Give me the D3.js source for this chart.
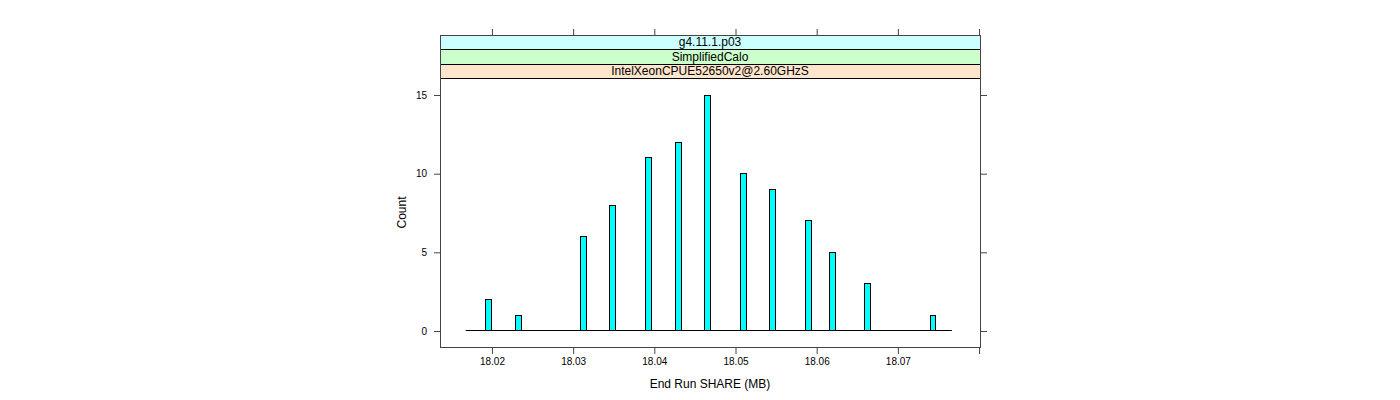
<!DOCTYPE html>
<html>
<head>
<meta charset="utf-8">
<script src="https://cdn.jsdelivr.net/npm/d3@7"></script>
<style>
  html, body { margin: 0; padding: 0; background: #fff; }
  svg { display: block; font-family: "Liberation Sans", Arial, Helvetica, sans-serif; }
</style>
</head>
<body>
<svg id="chart" width="1400" height="400"></svg>
<script>
// ---- data ----
const binCenters = [18.01958, 18.02328, 18.03132, 18.03490, 18.03933, 18.04295, 18.04657,
                    18.05096, 18.05460, 18.05903, 18.06190, 18.06631, 18.07433];
const counts     = [2, 1, 6, 8, 11, 12, 15, 10, 9, 7, 5, 3, 1];
const binWidth   = 0.00073;
const histRange  = [18.01683, 18.07671];
const xDomain    = [18.01366, 18.08018];
const yDomain    = [-1.05, 16.05];
const xTickValues = [18.02, 18.03, 18.04, 18.05, 18.06, 18.07, 18.08];
const xTickLabels = ["18.02", "18.03", "18.04", "18.05", "18.06", "18.07", ""];
const yTickValues = [0, 5, 10, 15];
const yTickLabels = ["0", "5", "10", "15"];
const stripLabels = ["g4.11.1.p03", "SimplifiedCalo", "IntelXeonCPUE52650v2@2.60GHzS"];
const stripColors = ["#ccffff", "#ccffcc", "#ffe5cc"];
const xTitle = "End Run SHARE (MB)";
const yTitle = "Count";

// ---- layout ----
const left = 440, right = 980, stripTop = 35, plotTop = 78, bottom = 347;
const stripH = (plotTop - stripTop) / stripLabels.length;
const frameCol = "#444";

const svg = d3.select("#chart");
const x = d3.scaleLinear().domain(xDomain).range([left, right]);
const y = d3.scaleLinear().domain(yDomain).range([bottom, plotTop]);
const px = v => Math.round(v) + 0.5;

// strips
const strips = svg.append("g");
stripLabels.forEach((lab, i) => {
  const y0 = stripTop + i * stripH;
  strips.append("rect")
    .attr("x", left + 0.5).attr("y", px(y0))
    .attr("width", right - left).attr("height", Math.round(y0 + stripH) - Math.round(y0))
    .attr("fill", stripColors[i]).attr("stroke", "#000").attr("stroke-width", 1);
  strips.append("text")
    .attr("x", (left + right) / 2).attr("y", y0 + stripH / 2)
    .attr("dy", "0.36em").attr("text-anchor", "middle")
    .attr("font-size", 12).attr("fill", "#000").text(lab);
});

// histogram baseline (empty bins)
svg.append("line")
  .attr("x1", x(histRange[0])).attr("x2", x(histRange[1]))
  .attr("y1", px(y(0))).attr("y2", px(y(0)))
  .attr("stroke", "#000").attr("stroke-width", 1);

// bars
svg.append("g").selectAll("rect")
  .data(binCenters.map((c, i) => ({ c, n: counts[i] })))
  .join("rect")
  .attr("x", d => px(x(d.c - binWidth / 2)))
  .attr("width", d => Math.round(x(d.c + binWidth / 2)) - Math.round(x(d.c - binWidth / 2)))
  .attr("y", d => px(y(d.n)))
  .attr("height", d => Math.round(y(0)) - Math.round(y(d.n)))
  .attr("fill", "#00ffff").attr("stroke", "#000").attr("stroke-width", 1);

// frame
svg.append("rect")
  .attr("x", left + 0.5).attr("y", stripTop + 0.5)
  .attr("width", right - left).attr("height", bottom - stripTop)
  .attr("fill", "none").attr("stroke", frameCol).attr("stroke-width", 1);

// axes
const axB = d3.axisBottom(x).tickValues(xTickValues).tickSize(6).tickPadding(4)
  .tickFormat((d, i) => xTickLabels[i]);
const axT = d3.axisTop(x).tickValues(xTickValues).tickSize(6).tickFormat(() => "");
const axL = d3.axisLeft(y).tickValues(yTickValues).tickSize(6).tickPadding(7)
  .tickFormat((d, i) => yTickLabels[i]);
const axR = d3.axisRight(y).tickValues(yTickValues).tickSize(6).tickFormat(() => "");

function styleAxis(g) {
  g.select(".domain").remove();
  g.selectAll(".tick line").attr("stroke", frameCol);
  g.selectAll(".tick text").attr("fill", "#000").attr("font-size", 10)
    .attr("font-family", "Liberation Sans, Arial, sans-serif");
}
svg.append("g").attr("transform", `translate(0.5,${bottom + 1})`).call(axB).call(styleAxis);
svg.append("g").attr("transform", `translate(0.5,${stripTop})`).call(axT).call(styleAxis);
svg.append("g").attr("transform", `translate(${left},0.5)`).call(axL).call(styleAxis);
svg.append("g").attr("transform", `translate(${right + 1},0.5)`).call(axR).call(styleAxis);

// titles
svg.append("text")
  .attr("x", (left + right) / 2).attr("y", 388)
  .attr("text-anchor", "middle").attr("font-size", 12).attr("fill", "#000")
  .text(xTitle);
svg.append("text")
  .attr("transform", `translate(406,${(plotTop + bottom) / 2}) rotate(-90)`)
  .attr("text-anchor", "middle").attr("font-size", 12).attr("fill", "#000")
  .text(yTitle);
</script>
</body>
</html>
